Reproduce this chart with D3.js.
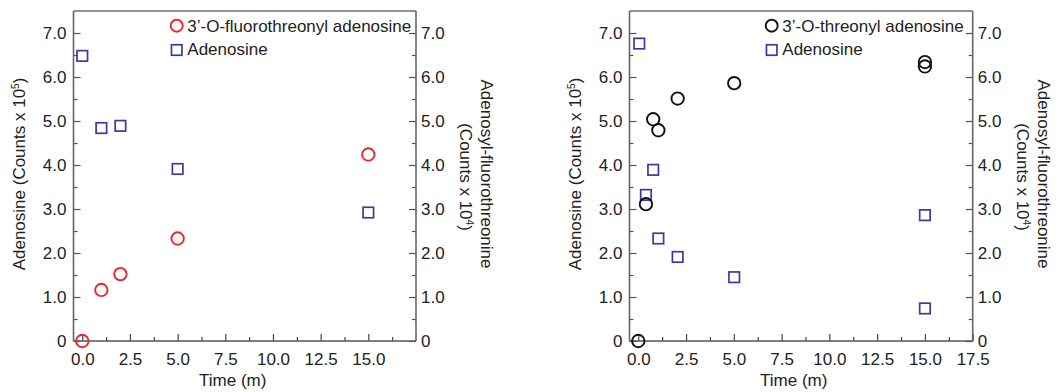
<!DOCTYPE html>
<html>
<head>
<meta charset="utf-8">
<script src="https://cdn.jsdelivr.net/npm/d3@7"></script>
<style>
  body { margin: 0; background: #fff; }
  text { font-family: "Liberation Sans", Arial, sans-serif; fill: #222; }
</style>
</head>
<body>
<script>
// ---- data ----
// left panel: 3'-O-fluorothreonyl adenosine
var leftTime = [0, 1, 2, 5, 15];
var leftProduct = [0, 1.16, 1.52, 2.33, 4.24];
var leftAdenosineTime = [0, 1, 2, 5, 15];
var leftAdenosine = [6.48, 4.84, 4.89, 3.91, 2.92];

// right panel: 3'-O-threonyl adenosine
var rightTime = [0, 0.4, 0.78, 1.05, 2.06, 5.02, 15, 15];
var rightProduct = [0, 3.11, 5.04, 4.79, 5.51, 5.86, 6.24, 6.34];
var rightAdenosineTime = [0.05, 0.4, 0.78, 1.05, 2.06, 5.02, 15, 15];
var rightAdenosine = [6.76, 3.32, 3.89, 2.33, 1.91, 1.45, 2.86, 0.74];

var leftXTicks = [0, 2.5, 5, 7.5, 10, 12.5, 15];
var rightXTicks = [0, 2.5, 5, 7.5, 10, 12.5, 15, 17.5];
var yTicks = [0, 1, 2, 3, 4, 5, 6, 7];

var W = 1059, H = 392;
var FS = "17px";
var svg = d3.select("body").append("svg")
    .attr("width", W)
    .attr("height", H);

function styleTicks(a, color) {
    a.select(".domain").remove();
    a.selectAll(".tick line").attr("stroke", color).attr("stroke-width", 1.2);
    a.selectAll("text").style("font-size", FS).attr("fill", "#222");
}

function drawPanel(cfg) {
    var x = d3.scaleLinear().domain([-0.46, 17.5]).range([cfg.left, cfg.right]);
    var y = d3.scaleLinear().domain([0, 7.5]).range([341, 11]);
    var g = svg.append("g");

    var minorX = d3.range(1.25, 17.5, 2.5);
    var minorY = d3.range(0.5, 7.5, 1);
    var fmt = function (d) { return d === 0 ? "0" : d3.format(".1f")(d); };

    // x axis, ticks inward
    g.append("g")
        .attr("transform", "translate(0,341)")
        .call(d3.axisBottom(x).tickValues(cfg.xTicks).tickSize(-7).tickPadding(12)
            .tickFormat(d3.format(".1f")))
        .call(styleTicks, "#444");
    g.append("g")
        .attr("transform", "translate(0,341)")
        .call(d3.axisBottom(x).tickValues(minorX).tickSize(-4).tickFormat(""))
        .call(styleTicks, "#444");

    // left y axis
    g.append("g")
        .attr("transform", "translate(" + cfg.left + ",0)")
        .call(d3.axisLeft(y).tickValues(yTicks).tickSize(-7).tickPadding(7).tickFormat(fmt))
        .call(styleTicks, "#555");
    g.append("g")
        .attr("transform", "translate(" + cfg.left + ",0)")
        .call(d3.axisLeft(y).tickValues(minorY).tickSize(-4).tickFormat(""))
        .call(styleTicks, "#555");

    // right y axis
    g.append("g")
        .attr("transform", "translate(" + cfg.right + ",0)")
        .call(d3.axisRight(y).tickValues(yTicks).tickSize(-7).tickPadding(5).tickFormat(fmt))
        .call(styleTicks, "#555");
    g.append("g")
        .attr("transform", "translate(" + cfg.right + ",0)")
        .call(d3.axisRight(y).tickValues(minorY).tickSize(-4).tickFormat(""))
        .call(styleTicks, "#555");

    // frame
    g.append("line").attr("x1", cfg.left).attr("x2", cfg.right).attr("y1", 11).attr("y2", 11)
        .attr("stroke", "#222").attr("stroke-width", 1);
    g.append("line").attr("x1", cfg.left).attr("x2", cfg.right).attr("y1", 341).attr("y2", 341)
        .attr("stroke", "#555").attr("stroke-width", 1.6);
    g.append("line").attr("x1", cfg.left).attr("x2", cfg.left).attr("y1", 11).attr("y2", 341)
        .attr("stroke", "#666").attr("stroke-width", 1.6);
    g.append("line").attr("x1", cfg.right).attr("x2", cfg.right).attr("y1", 11).attr("y2", 341)
        .attr("stroke", "#666").attr("stroke-width", 1.6);

    // adenosine squares
    var sq = 10.5;
    g.selectAll("rect.ado")
        .data(d3.zip(cfg.adoT, cfg.ado))
        .enter().append("rect")
        .attr("class", "ado")
        .attr("x", function (d) { return x(d[0]) - sq / 2; })
        .attr("y", function (d) { return y(d[1]) - sq / 2; })
        .attr("width", sq).attr("height", sq)
        .attr("fill", "none").attr("stroke", "#3b3b9c").attr("stroke-width", 1.7);

    // product circles
    g.selectAll("circle.prod")
        .data(d3.zip(cfg.prodT, cfg.prod))
        .enter().append("circle")
        .attr("class", "prod")
        .attr("cx", function (d) { return x(d[0]); })
        .attr("cy", function (d) { return y(d[1]); })
        .attr("r", 6.2)
        .attr("fill", "none").attr("stroke", cfg.color).attr("stroke-width", 1.9);

    // legend
    g.append("circle").attr("cx", cfg.legX).attr("cy", 25.7).attr("r", 6)
        .attr("fill", "none").attr("stroke", cfg.color).attr("stroke-width", 1.9);
    g.append("text").attr("x", cfg.legX + 10.6).attr("y", 32).style("font-size", FS)
        .text(cfg.name);
    g.append("rect").attr("x", cfg.legX - sq / 2).attr("y", 50 - sq / 2).attr("width", sq).attr("height", sq)
        .attr("fill", "none").attr("stroke", "#3b3b9c").attr("stroke-width", 1.7);
    g.append("text").attr("x", cfg.legX + 10.6).attr("y", 54.5).style("font-size", FS)
        .text("Adenosine");

    // axis titles
    g.append("text")
        .attr("x", cfg.titleX).attr("y", 386)
        .attr("text-anchor", "middle").style("font-size", FS)
        .text("Time (m)");

    var lt = g.append("text")
        .attr("transform", "translate(" + (cfg.left - 48.5) + ",174) rotate(-90)")
        .attr("text-anchor", "middle").style("font-size", FS);
    lt.append("tspan").text("Adenosine (Counts x 10");
    lt.append("tspan").attr("dy", -6).style("font-size", "10px").text("5");
    lt.append("tspan").attr("dy", 6).text(")");

    g.append("text")
        .attr("transform", "translate(" + (cfg.right + 65) + ",174) rotate(90)")
        .attr("text-anchor", "middle").style("font-size", FS)
        .text("Adenosyl-fluorothreonine");
    var rt2 = g.append("text")
        .attr("transform", "translate(" + (cfg.right + 44) + ",177) rotate(90)")
        .attr("text-anchor", "middle").style("font-size", FS);
    rt2.append("tspan").text("(Counts x 10");
    rt2.append("tspan").attr("dy", -6).style("font-size", "10px").text("4");
    rt2.append("tspan").attr("dy", 6).text(")");
}

drawPanel({
    left: 73.5, right: 416, xTicks: leftXTicks, titleX: 232.7,
    prodT: leftTime, prod: leftProduct, adoT: leftAdenosineTime, ado: leftAdenosine,
    color: "#e8262b", name: "3\u2019-O-fluorothreonyl adenosine", legX: 176.7
});
drawPanel({
    left: 629.5, right: 972.7, xTicks: rightXTicks, titleX: 793.7,
    prodT: rightTime, prod: rightProduct, adoT: rightAdenosineTime, ado: rightAdenosine,
    color: "#111", name: "3\u2019-O-threonyl adenosine", legX: 771.7
});
</script>
</body>
</html>
